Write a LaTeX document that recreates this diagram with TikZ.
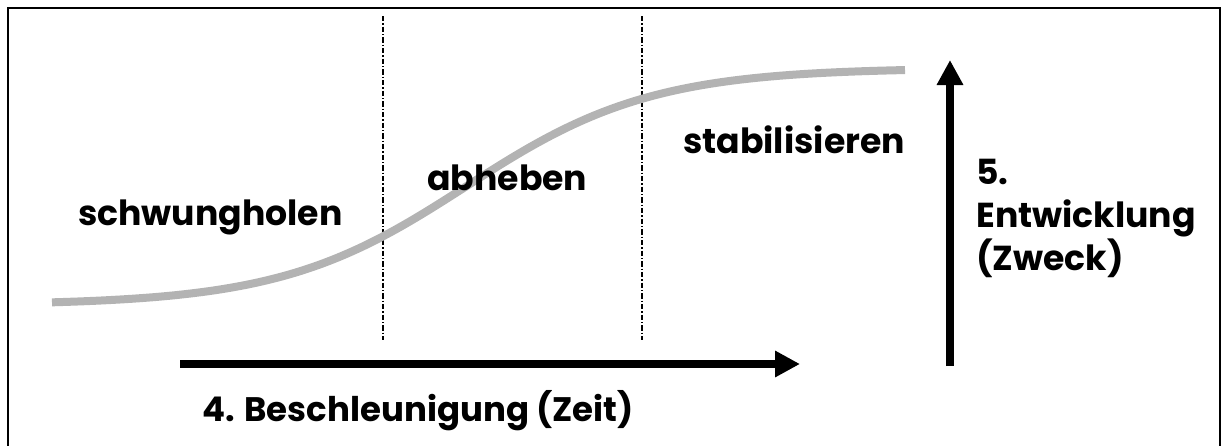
\documentclass[tikz,border=0pt]{standalone}
\usepackage{fontspec}
\setmainfont{Poppins}
\usetikzlibrary{arrows.meta}
\tikzset{
  lbl/.style={inner sep=0pt, font=\fontsize{26pt}{32pt}\selectfont\bfseries, text=black},
  bigarrow/.style={line width=6pt, -{Triangle[length=18.75pt,width=18.75pt]}},
  divider/.style={line width=0.9pt, dash pattern=on 4pt off 1.5pt on 1pt off 1.5pt},
  scurve/.style={line width=6pt, color=curvegray},
}
\definecolor{curvegray}{HTML}{B3B3B3}
\begin{document}
\begin{tikzpicture}[x=0.75pt,y=-0.75pt]
\useasboundingbox (0,0) rectangle (1221,446);
\clip (0,0) rectangle (1221,446);
\draw[line width=1.5pt] (8,8) rectangle (1220,480);
% dividers
\coordinate (d1t) at (383,16); \coordinate (d1b) at (383,340);
\coordinate (d2t) at (642,16); \coordinate (d2b) at (642,340);
\draw[divider] (d1t) -- (d1b);
\draw[divider] (d2t) -- (d2b);
% s-curve
\draw[scurve] plot[domain=52:905, samples=120, smooth] (\x, {68+237/(1+exp(0.0108*(\x-466)))});
% arrows
\coordinate (hs) at (180,364); \coordinate (he) at (800,364);
\draw[bigarrow] (hs) -- (he);
\coordinate (vs) at (950,366); \coordinate (ve) at (950,60);
\draw[bigarrow] (vs) -- (ve);
% labels
\node[lbl, anchor=base west] (schw) at (78,225) {schwungholen};
\node[lbl, anchor=base west] (abh) at (427,190) {abheben};
\node[lbl, anchor=base west] (stab) at (683,153) {stabilisieren};
\node[lbl, anchor=base west, font=\fontsize{25.5pt}{32pt}\selectfont\bfseries] (besch) at (202,421) {4. Beschleunigung (Zeit)};
\node[lbl, anchor=base west, align=left] (entw) at (976,270) {5.\\Entwicklung\\(Zweck)};
\end{tikzpicture}
\end{document}
